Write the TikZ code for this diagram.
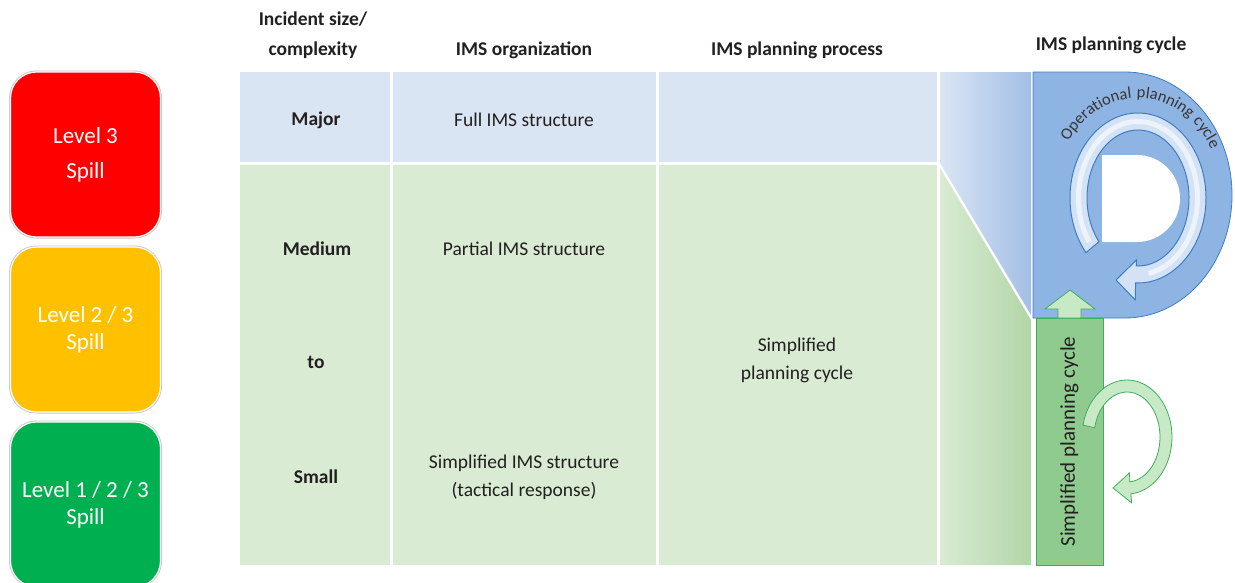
\documentclass[tikz,border=0pt]{standalone}
\usepackage{fontspec}
\setmainfont{Carlito}
\newfontfamily\arcfont[LetterSpace=6]{Carlito}
\usepackage{tikz}
\usetikzlibrary{arrows.meta, decorations.text, positioning, shapes.geometric}
\definecolor{lvred}{HTML}{FF0000}
\definecolor{lvyellow}{HTML}{FFC000}
\definecolor{lvgreen}{HTML}{00B050}
\definecolor{rowblue}{HTML}{DAE5F4}
\definecolor{rowgreen}{HTML}{D9EBD3}
\definecolor{edgeblue}{HTML}{A3BFE5}
\definecolor{edgegreen}{HTML}{B2D6A7}
\definecolor{dblue}{HTML}{8DB4E2}
\definecolor{dbluedark}{HTML}{3F7CC4}
\definecolor{bandblue}{HTML}{D3E2F5}
\definecolor{sgreen}{HTML}{8FCB8F}
\definecolor{sgreendark}{HTML}{3FAE5C}
\definecolor{bandgreen}{HTML}{C8E9C6}
\definecolor{txt}{HTML}{231F20}

\begin{document}
\begin{tikzpicture}[x=1pt, y=1pt,
  lvbox/.style={rectangle, rounded corners=26pt, minimum width=150pt, minimum height=165pt, inner sep=0pt,
    draw=white, line width=1.2pt, preaction={draw=black!22, line width=3pt},
    text=white, align=center, font=\fontsize{23}{27}\selectfont},
  hd/.style={text=txt, align=center, font=\fontsize{19.5}{30}\selectfont\bfseries},
  bd/.style={text=txt, align=center, font=\fontsize{19.5}{28}\selectfont},
  bdb/.style={text=txt, align=center, font=\fontsize{19.5}{28}\selectfont\bfseries}]
\clip (0,0) rectangle (1235,-582);

% spill levels
\node[lvbox, fill=lvred] (lvthree) at (85.5,-154.5) {Level 3\\[8pt]Spill};
\node[lvbox, fill=lvyellow] (lvtwo) at (85.5,-329.5) {Level 2 / 3\\Spill};
\node[lvbox, fill=lvgreen] (lvone) at (85.5,-504.5) {Level 1 / 2 / 3\\Spill};

% table cells
\foreach \xa/\xb in {240/390, 393/656, 659/937} {
  \fill[rowblue] (\xa,-72) rectangle (\xb,-162);
  \fill[rowgreen] (\xa,-165) rectangle (\xb,-565);
}
\shade[left color=rowblue, right color=edgeblue] (940,-72) -- (1031,-72) -- (1031,-315) -- (940,-163) -- cycle;
\shade[left color=rowgreen, right color=edgegreen] (940,-168) -- (1031,-320) -- (1031,-565) -- (940,-565) -- cycle;

\node[hd] (hsize) at (313,-35) {Incident size/\\complexity};
\node[hd] (horg) at (524,-50) {IMS organization};
\node[hd] (hproc) at (797,-50) {IMS planning process};
\node[hd] (hcycle) at (1111,-45) {IMS planning cycle};

\node[bdb] (major) at (316,-120) {Major};
\node[bd] (full) at (524,-120) {Full IMS structure};
\node[bdb] (medium) at (317,-249) {Medium};
\node[bd] (partial) at (524,-249) {Partial IMS structure};
\node[bdb] (tolbl) at (316,-362) {to};
\node[bdb] (small) at (316,-477) {Small};
\node[bd] (simpims) at (524,-477) {Simplified IMS structure\\(tactical response)};
\node[bd] (simpcyc) at (797,-360) {Simplified\\planning cycle};

% operational cycle (the D)
\draw[fill=dblue, draw=dbluedark, line width=0.8pt] (1033,-72) -- (1125,-72)
  arc[start angle=90, end angle=-90, x radius=107, y radius=123] -- (1033,-318) -- cycle;
\fill[white] (1102,-155) -- (1137,-155) arc[start angle=90, end angle=-90, x radius=43, y radius=43.5] -- (1102,-242) -- cycle;
\begin{scope}[shift={(1138,-198)}]
\draw[fill=bandblue, draw=dbluedark, line width=1pt]
  ({68*cos(220)},{85*sin(220)}) arc[start angle=220, end angle=-92, x radius=68, y radius=85]
  -- ({80*cos(-92)},{102*sin(-92)}) -- (-22,-82) -- ({44*cos(-92)},{62*sin(-92)})
  -- ({51*cos(-92)},{68*sin(-92)}) arc[start angle=-92, end angle=220, x radius=51, y radius=68] -- cycle;
\draw[white, opacity=0.6, line width=5pt] ({59.5*cos(215)},{76.5*sin(215)}) arc[start angle=215, end angle=-80, x radius=59.5, y radius=76.5];
\path[decorate, decoration={text along path, text align=center, text color=txt!90,
  text={|\arcfont\fontsize{16.5}{17}\selectfont|Operational planning cycle}}]
  ({84*cos(160)},{100*sin(160)}) arc[start angle=160, end angle=15, x radius=84, y radius=100];
\end{scope}

% simplified cycle
\node[draw=sgreendark, fill=sgreen, line width=0.8pt, rotate=90, minimum width=247pt, minimum height=67pt,
  text=txt, font=\fontsize{21}{21}\selectfont] (simpbar) at (1069.5,-441.5) {Simplified planning cycle};
\draw[fill=bandgreen, draw=sgreendark, line width=0.8pt] (1058,-318) -- (1058,-309) -- (1045,-309) -- (1070,-290)
  -- (1095,-309) -- (1081,-309) -- (1081,-318) -- cycle;
\begin{scope}[shift={(1127,-437)}]
\draw[fill=bandgreen, draw=sgreendark, line width=0.8pt]
  ({45*cos(168)},{57*sin(168)}) arc[start angle=168, end angle=-85, x radius=45, y radius=57]
  -- ({52*cos(-85)},{66*sin(-85)}) -- (-14,-51) -- ({28*cos(-85)},{36*sin(-85)})
  -- ({33*cos(-85)},{45*sin(-85)}) arc[start angle=-85, end angle=168, x radius=33, y radius=45] -- cycle;
\end{scope}
\end{tikzpicture}
\end{document}
